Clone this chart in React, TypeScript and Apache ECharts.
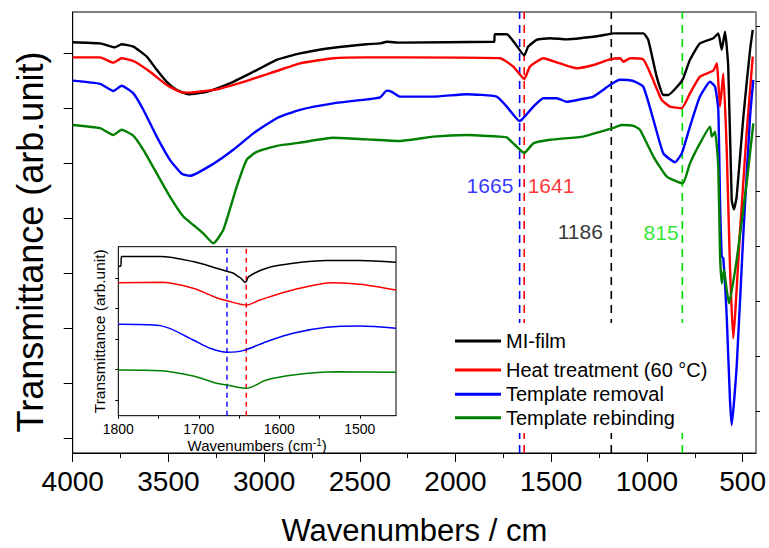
import React, { useEffect, useRef } from "react";
import * as echarts from "echarts";

const FONT = "'Liberation Sans', Arial, Helvetica, sans-serif";

// Main spectra: [wavenumber (cm-1), transmittance (arb. unit)]
const MI_FILM: [number, number][] = [
  [4000, 102.7], [3857, 102.4], [3779, 101.4], [3744, 102.2], [3683, 101.6], [3613, 99.1], [3561, 95.8],
  [3509, 92.8], [3457, 90.8], [3396, 89.7], [3300, 90.3], [3161, 92.8], [3056, 95.3], [2934, 98.3],
  [2812, 99.9], [2638, 101.3], [2464, 102.2], [2394, 102.4], [2359, 102.8], [2290, 102.6], [1802, 102.8],
  [1797, 102.8], [1795, 104.7], [1732, 104.7], [1689, 102.4], [1641, 99.4], [1620, 101.6], [1576, 103.3],
  [1506, 103.7], [1419, 103.4], [1332, 103.8], [1245, 104.3], [1175, 104.9], [1019, 104.9], [993, 103.3],
  [949, 94.1], [914, 89.5], [888, 89.5], [827, 92.4], [810, 93.7], [775, 98.3], [723, 102.4], [653, 103.7],
  [627, 104.9], [609, 100.8], [592, 105.3], [575, 96.6], [557, 63.3], [545, 60.9], [531, 64.1], [496, 84.1],
  [461, 100.8], [447, 105.8],
];
const HEAT_TREATMENT: [number, number][] = [
  [4000, 98.9], [3857, 98.9], [3788, 97.6], [3744, 98.7], [3683, 98.0], [3596, 95.3], [3509, 92.0],
  [3439, 90.3], [3387, 90.1], [3248, 90.9], [3074, 93.3], [2934, 95.5], [2812, 97.4], [2638, 98.7],
  [2464, 98.9], [2290, 98.9], [1767, 98.7], [1698, 96.6], [1641, 93.5], [1611, 96.6], [1541, 98.7],
  [1454, 97.4], [1367, 96.2], [1280, 97.0], [1193, 98.4], [1140, 98.7], [1123, 97.8], [1088, 98.7],
  [1019, 98.4], [975, 94.1], [923, 88.3], [879, 86.6], [818, 86.2], [775, 89.9], [723, 94.1], [653, 95.6],
  [635, 97.4], [618, 86.6], [601, 94.9], [583, 75.8], [566, 46.6], [549, 28.7], [514, 55.0], [479, 79.9],
  [447, 99.1],
];
const TEMPLATE_REMOVAL: [number, number][] = [
  [4000, 93.1], [3857, 92.3], [3788, 90.5], [3744, 91.8], [3683, 89.9], [3631, 85.8], [3561, 79.1],
  [3492, 73.3], [3430, 69.8], [3387, 69.3], [3265, 72.3], [3161, 75.8], [3056, 79.9], [2934, 83.7],
  [2812, 85.8], [2638, 87.4], [2464, 88.4], [2394, 88.9], [2359, 90.6], [2333, 90.3], [2290, 89.1],
  [2116, 89.1], [1941, 89.7], [1785, 89.1], [1732, 86.6], [1665, 83.0], [1646, 83.7], [1593, 86.6],
  [1541, 88.7], [1471, 88.7], [1419, 87.8], [1349, 88.4], [1280, 89.1], [1193, 92.0], [1140, 93.3],
  [1071, 93.0], [1019, 91.6], [966, 83.3], [914, 74.9], [853, 72.7], [818, 74.9], [775, 81.6], [723, 89.1],
  [670, 92.8], [644, 91.6], [627, 85.8], [618, 63.3], [609, 49.1], [601, 48.7], [583, 34.1], [566, 13.3],
  [557, 7.0], [531, 21.6], [496, 54.9], [461, 84.1], [444, 93.3],
];
const TEMPLATE_REBINDING: [number, number][] = [
  [4000, 82.0], [3857, 81.2], [3788, 79.5], [3744, 80.8], [3683, 79.3], [3631, 75.8], [3561, 69.9],
  [3492, 64.1], [3422, 59.1], [3370, 57.0], [3318, 54.9], [3265, 52.4], [3213, 55.8], [3143, 66.6],
  [3091, 73.3], [3039, 75.3], [2934, 76.8], [2812, 77.6], [2638, 78.8], [2464, 78.4], [2290, 78.0],
  [2116, 79.1], [1941, 79.5], [1767, 79.1], [1732, 78.9], [1689, 77.0], [1641, 75.0], [1593, 77.4],
  [1506, 78.3], [1332, 79.1], [1245, 80.3], [1175, 81.3], [1132, 82.0], [1071, 81.8], [1036, 80.8],
  [966, 74.1], [896, 69.1], [813, 67.4], [775, 72.4], [723, 77.4], [670, 81.6], [661, 79.1], [644, 80.3],
  [627, 71.6], [618, 49.9], [609, 42.4], [597, 45.8], [583, 40.8], [571, 37.4], [531, 48.3], [479, 67.4],
  [444, 82.4],
];

// Inset (1800-1455 cm-1)
const INSET_MI_FILM: [number, number][] = [
  [1800, 88.5], [1797, 88.5], [1796, 94.2], [1748, 94.2], [1707, 91.2], [1678, 87.3], [1657, 84.3],
  [1651, 82.3], [1648, 81.5], [1642, 78.9], [1638, 82.3], [1616, 87.3], [1583, 90.2], [1541, 91.8],
  [1500, 91.8], [1455, 90.8],
];
const INSET_HEAT: [number, number][] = [
  [1800, 78.7], [1748, 78.9], [1707, 75.4], [1678, 69.8], [1665, 68.0], [1641, 65.5], [1624, 68.5],
  [1583, 74.4], [1533, 78.7], [1500, 77.8], [1455, 74.4],
];
const INSET_REMOVAL: [number, number][] = [
  [1800, 54.1], [1748, 53.3], [1707, 44.8], [1686, 39.9], [1665, 37.5], [1645, 38.5], [1616, 43.8],
  [1583, 48.8], [1541, 52.3], [1500, 53.1], [1455, 51.7],
];
const INSET_REBINDING: [number, number][] = [
  [1800, 27.0], [1748, 26.6], [1707, 23.5], [1678, 19.2], [1665, 18.2], [1641, 16.2], [1616, 21.1],
  [1583, 24.1], [1529, 26.0], [1455, 25.7],
];

const SERIES_NAMES = ["MI-film", "Heat treatment (60 °C)", "Template removal", "Template rebinding"];
const SERIES_COLORS = ["#000000", "#ff0000", "#0000ff", "#007f00"];

// Marker lines (cm-1) and their label positions
const MARKERS = [1665, 1641, 1186, 815];
const MARKER_COLORS = ["#0000ff", "#ff0000", "#000000", "#00e000"];
const MARKER_LABEL_POS: [number, number][] = [[1820, 67], [1501, 67], [1348, 55.3], [926, 55.25]];
const INSET_MARKERS = [1665, 1641];
const INSET_MARKER_COLORS = ["#0000ff", "#ff0000"];

// Axis ticks
const X_MAJOR = [4000, 3500, 3000, 2500, 2000, 1500, 1000, 500];
const X_MINOR = [3750, 3250, 2750, 2250, 1750, 1250, 750];
const Y_MAJOR = [3.625, 17.375, 31.125, 44.875, 58.625, 72.375, 86.125, 99.875];
const Y_MINOR = [10.5, 24.25, 38, 51.75, 65.5, 79.25, 93, 106.75];
const INSET_X_LABELS = [1800, 1700, 1600, 1500];
const INSET_X_TICKS = [1800, 1750, 1700, 1650, 1600, 1550, 1500];
const INSET_Y_TICKS = [9.3, 27.4, 45.4, 63.5, 81.5];

const LEGEND_TOPS = [331, 360, 384.3, 407.7];

export default function App() {
  const ref = useRef<HTMLDivElement>(null);
  useEffect(() => {
    if (!ref.current) return;
    const chart = echarts.init(ref.current, null, { renderer: "svg" });
    const mainData = [MI_FILM, HEAT_TREATMENT, TEMPLATE_REMOVAL, TEMPLATE_REBINDING];
    const insetData = [INSET_MI_FILM, INSET_HEAT, INSET_REMOVAL, INSET_REBINDING];
    const plain = (v: number) => String(v);
    const series: any[] = [];
    MARKERS.forEach((m, i) => {
      series.push({
        type: "line", xAxisIndex: 0, yAxisIndex: 0, symbol: "none", silent: true, z: 1,
        data: [[m, 0], [m, 110.25]],
        lineStyle: { color: MARKER_COLORS[i], width: 1.6, type: [8, 6] },
      });
    });
    mainData.forEach((d, i) => {
      series.push({
        name: SERIES_NAMES[i], type: "line", xAxisIndex: 0, yAxisIndex: 0, symbol: "none",
        smooth: 0.15, data: d,
        lineStyle: { color: SERIES_COLORS[i], width: 2.4, join: "round" }, itemStyle: { color: SERIES_COLORS[i] },
      });
    });
    series.push({
      type: "scatter", xAxisIndex: 0, yAxisIndex: 0, symbolSize: 0, silent: true,
      data: MARKER_LABEL_POS.map((p, i) => ({
        value: p,
        label: { show: true, position: "inside", formatter: String(MARKERS[i]), color: MARKER_COLORS[i], fontSize: 21, fontFamily: FONT },
      })),
    });
    INSET_MARKERS.forEach((m, i) => {
      series.push({
        type: "line", xAxisIndex: 2, yAxisIndex: 3, symbol: "none", silent: true, z: 3,
        data: [[m, 0], [m, 100]],
        lineStyle: { color: INSET_MARKER_COLORS[i], width: 1.4, type: [5, 4] },
      });
    });
    insetData.forEach((d, i) => {
      series.push({
        name: SERIES_NAMES[i], type: "line", xAxisIndex: 2, yAxisIndex: 3, symbol: "none", z: 3,
        smooth: 0.3, data: d,
        lineStyle: { color: SERIES_COLORS[i], width: 1.5 }, itemStyle: { color: SERIES_COLORS[i] },
      });
    });

    const legends = SERIES_NAMES.map((n, i) => ({
      data: [n], left: 455, top: LEGEND_TOPS[i], padding: 0, icon: "rect",
      itemWidth: 46, itemHeight: 3, selectedMode: false, z: 5,
      textStyle: { fontSize: 20, lineHeight: 20, color: "#000", fontFamily: FONT },
    }));

    chart.setOption({
      animation: false,
      backgroundColor: "#fff",
      grid: [
        { left: 72.7, top: 12, right: 13, bottom: 95, outerBoundsMode: "none", containLabel: false, show: true, borderColor: "#000", borderWidth: 1, backgroundColor: "transparent" },
        { left: 118.3, top: 246.7, width: 277.7, height: 169, outerBoundsMode: "none", containLabel: false, show: true, borderColor: "#000", borderWidth: 1, backgroundColor: "#fff", z: 2 },
      ],
      graphic: [
        { type: "rect", shape: { x: 448, y: 323, width: 264, height: 110 }, style: { fill: "#fff" }, z: 4, silent: true },
        {
          type: "text", x: 30, y: 242, rotation: Math.PI / 2, silent: true, z: 5,
          style: { text: "Transmittance (arb.unit)", fontSize: 36, fontFamily: FONT, fill: "#000", textAlign: "center", textVerticalAlign: "middle" },
        },
      ],
      legend: legends,
      xAxis: [
        {
          gridIndex: 0, type: "value", min: 430, max: 4000, inverse: true, position: "bottom",
          axisLine: { show: true, onZero: false, lineStyle: { color: "#000", width: 1 } },
          axisTick: { show: true, inside: false, length: 9, customValues: X_MAJOR, lineStyle: { color: "#000" } },
          axisLabel: { show: true, customValues: X_MAJOR, formatter: plain, fontSize: 28, margin: 14, color: "#000", fontFamily: FONT },
          splitLine: { show: false },
          name: "Wavenumbers / cm", nameLocation: "middle", nameGap: 62,
          nameTextStyle: { fontSize: 31, lineHeight: 30, color: "#000", fontFamily: FONT },
        },
        {
          gridIndex: 0, type: "value", min: 430, max: 4000, inverse: true, position: "bottom",
          axisLine: { show: false },
          axisTick: { show: true, inside: false, length: 5, customValues: X_MINOR, lineStyle: { color: "#000" } },
          axisLabel: { show: false }, splitLine: { show: false },
        },
        {
          gridIndex: 1, type: "value", min: 1455, max: 1800, inverse: true, position: "bottom",
          axisLine: { show: true, onZero: false, lineStyle: { color: "#000", width: 1 } },
          axisTick: { show: true, inside: false, length: 3, customValues: INSET_X_TICKS, lineStyle: { color: "#000" } },
          axisLabel: { show: true, customValues: INSET_X_LABELS, formatter: plain, fontSize: 14, margin: 6, lineHeight: 14, color: "#000", fontFamily: FONT },
          splitLine: { show: false },
          name: "Wavenumbers (cm{sup|-1})", nameLocation: "middle", nameGap: 22,
          nameTextStyle: {
            fontSize: 15, lineHeight: 15, color: "#000", fontFamily: FONT,
            rich: { sup: { fontSize: 10, lineHeight: 10, verticalAlign: "top", color: "#000", fontFamily: FONT, padding: [0, 0, 4, 0] } },
          },
        },
      ],
      yAxis: [
        {
          gridIndex: 0, type: "value", min: 0, max: 110.25,
          axisLine: { show: true, onZero: false, lineStyle: { color: "#000", width: 1 } },
          axisTick: { show: true, inside: false, length: 9, customValues: Y_MAJOR, lineStyle: { color: "#000" } },
          axisLabel: { show: false }, splitLine: { show: false },
        },
        {
          gridIndex: 0, type: "value", min: 0, max: 110.25,
          axisLine: { show: false },
          axisTick: { show: true, inside: false, length: 4, customValues: Y_MINOR, lineStyle: { color: "#000" } },
          axisLabel: { show: false }, splitLine: { show: false },
        },
        {
          gridIndex: 0, type: "value", min: 0, max: 110.25, position: "right",
          axisLine: { show: true, onZero: false, lineStyle: { color: "#888", width: 2 } },
          axisTick: { show: false }, axisLabel: { show: false }, splitLine: { show: false },
        },
        {
          gridIndex: 1, type: "value", min: 0, max: 100,
          axisLine: { show: true, onZero: false, lineStyle: { color: "#000", width: 1 } },
          axisTick: { show: true, inside: false, length: 3, customValues: INSET_Y_TICKS, lineStyle: { color: "#000" } },
          axisLabel: { show: false }, splitLine: { show: false },
          name: "Transmittance (arb.unit)", nameLocation: "middle", nameGap: 11,
          nameTextStyle: { fontSize: 15.5, color: "#000", fontFamily: FONT },
        },
      ],
      series,
    });
    return () => chart.dispose();
  }, []);
  return <div ref={ref} style={{ position: "absolute", left: 0, top: 0, width: 769, height: 548 }} />;
}
